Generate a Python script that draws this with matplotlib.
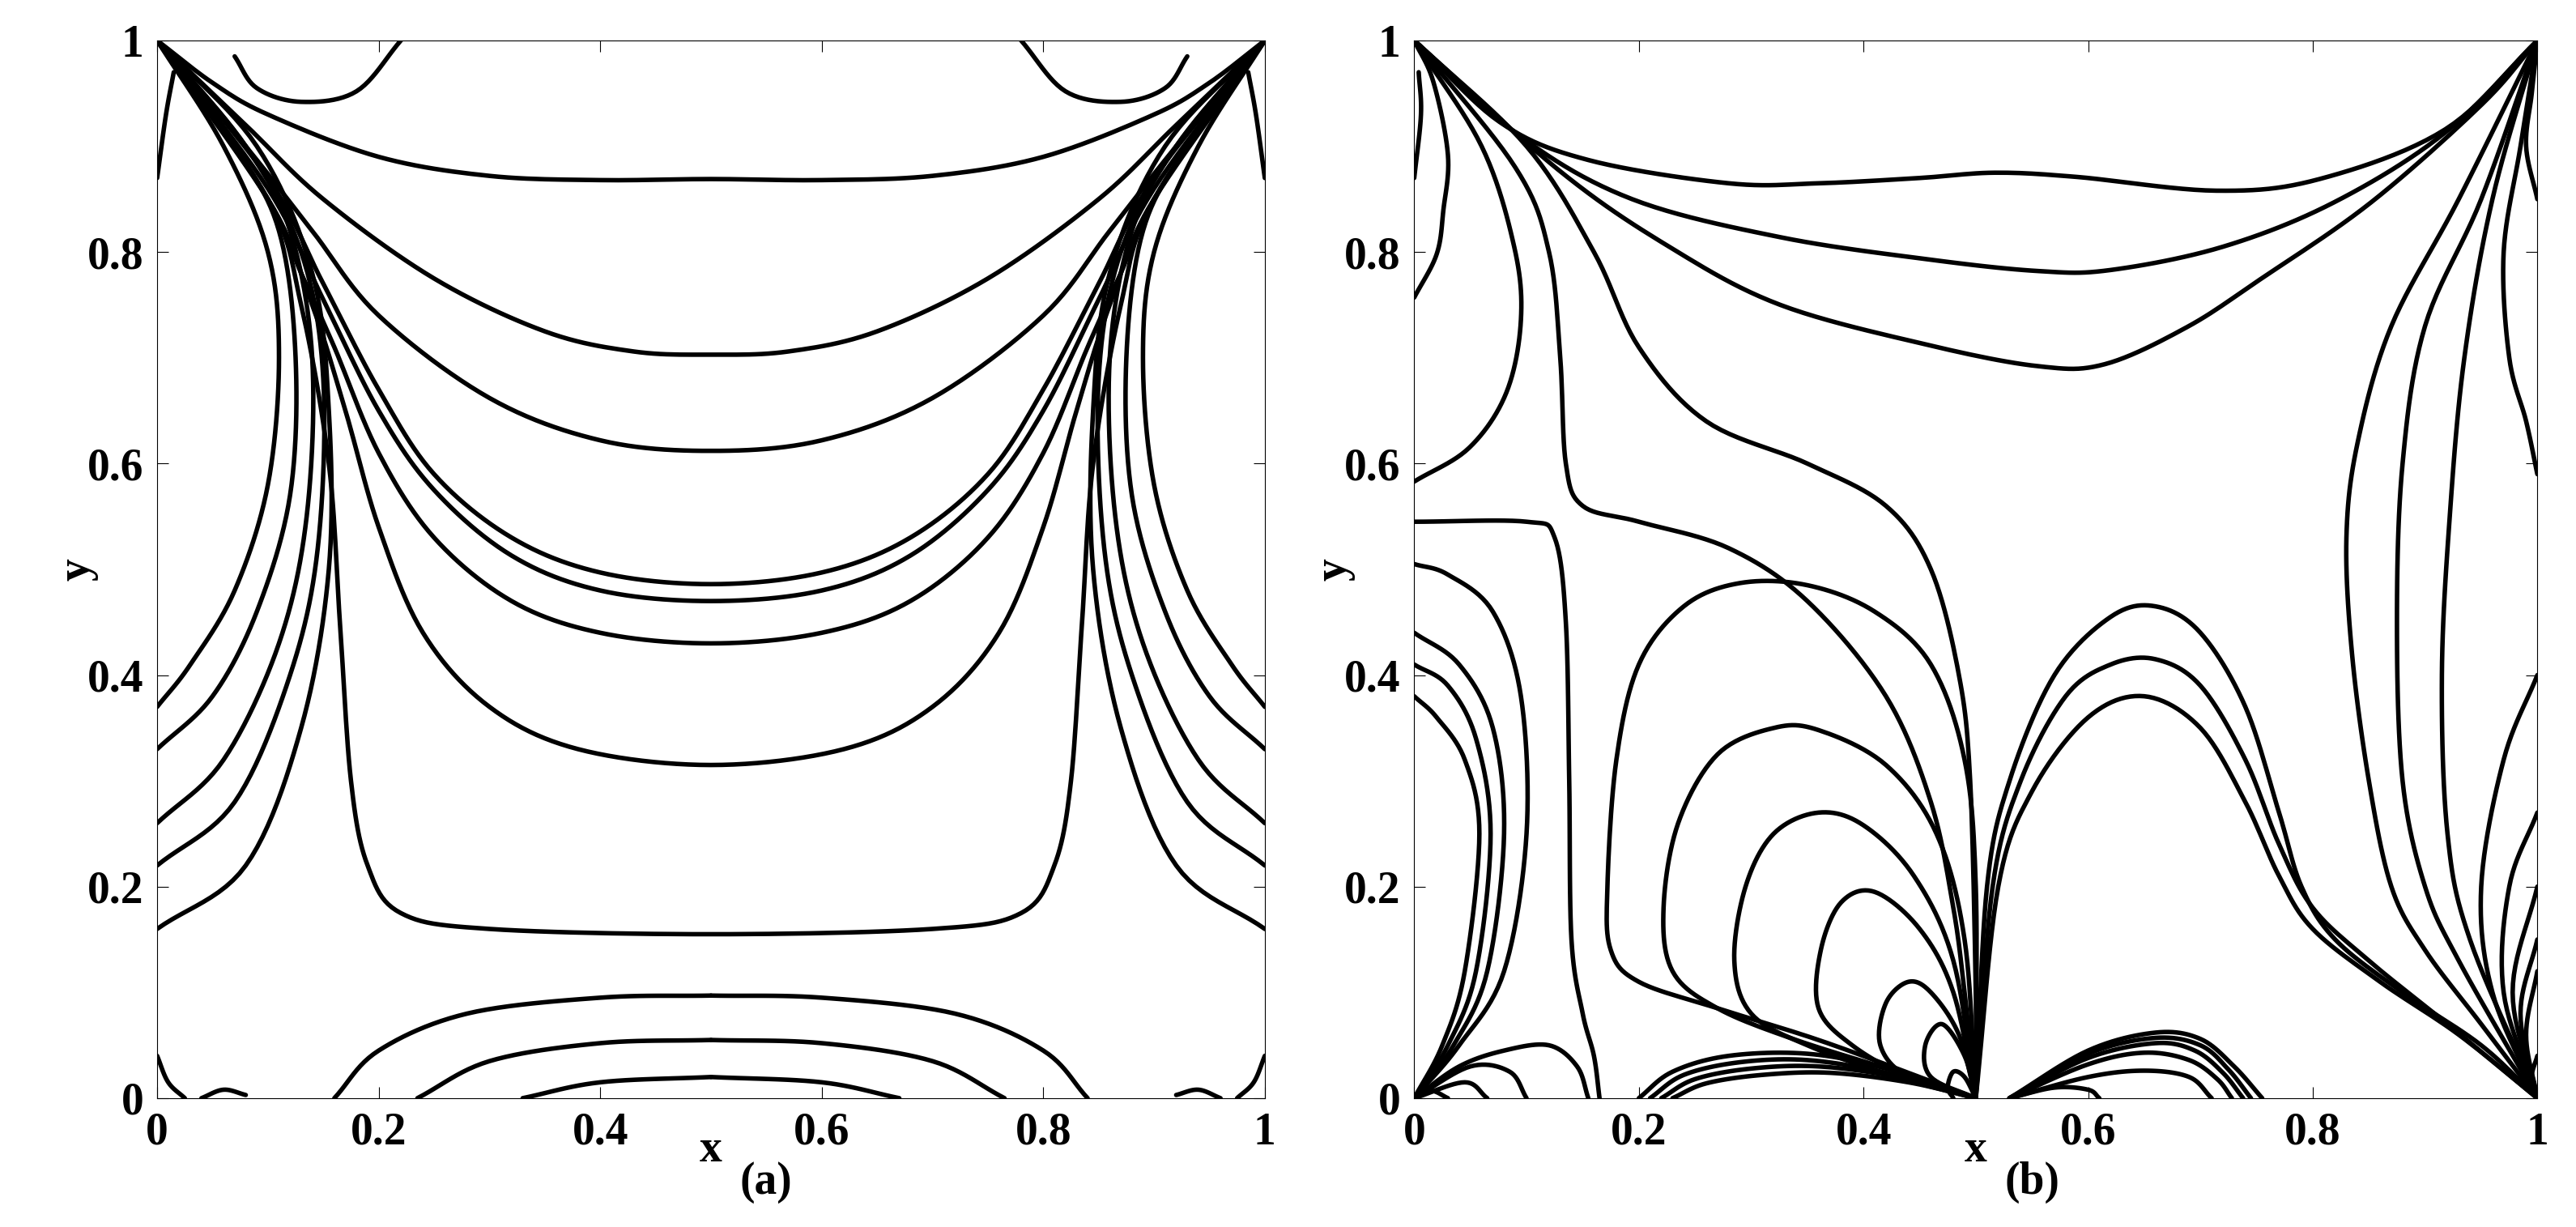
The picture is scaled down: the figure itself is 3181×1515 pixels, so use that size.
import numpy as np
import matplotlib
matplotlib.use('Agg')
import matplotlib.pyplot as plt

plt.rcParams['font.family'] = 'Liberation Serif'
plt.rcParams['font.weight'] = 'bold'

# ---- panel (a): left half of each heatline (field is symmetric about x=0.5)
a_cross = [  # from corner (0,1) to the mid line x=0.5
    [(0, 1), (0.05, 0.96), (0.1, 0.93), (0.2, 0.89), (0.3, 0.872), (0.4, 0.868), (0.5, 0.869)],
    [(0, 1), (0.08, 0.92), (0.15, 0.85), (0.25, 0.775), (0.35, 0.725), (0.43, 0.706), (0.5, 0.703)],
    [(0, 1), (0.08, 0.9), (0.14, 0.82), (0.2, 0.74), (0.3, 0.662), (0.4, 0.622), (0.5, 0.612)],
    [(0, 1), (0.1, 0.87), (0.15, 0.77), (0.2, 0.67), (0.25, 0.59), (0.32, 0.53), (0.4, 0.497), (0.5, 0.486)],
    [(0, 1), (0.1, 0.86), (0.15, 0.755), (0.2, 0.65), (0.25, 0.575), (0.32, 0.513), (0.4, 0.48), (0.5, 0.47)],
    [(0, 1), (0.1, 0.85), (0.13, 0.78), (0.16, 0.71), (0.2, 0.61), (0.25, 0.53), (0.32, 0.47), (0.4, 0.44), (0.5, 0.43)],
    [(0, 1), (0.1, 0.85), (0.14, 0.75), (0.17, 0.65), (0.2, 0.54), (0.24, 0.44), (0.3, 0.37), (0.38, 0.33), (0.5, 0.315)],
    [(0, 1), (0.1, 0.85), (0.13, 0.75), (0.155, 0.6), (0.165, 0.45), (0.175, 0.3), (0.19, 0.22),
     (0.22, 0.175), (0.3, 0.16), (0.5, 0.155)],
]
a_side = [  # from corner (0,1) back to the left wall
    [(0, 1), (0.06, 0.9), (0.1, 0.8), (0.11, 0.7), (0.1, 0.58), (0.07, 0.48), (0.03, 0.41), (0, 0.37)],
    [(0, 1), (0.07, 0.9), (0.11, 0.82), (0.125, 0.7), (0.12, 0.57), (0.09, 0.46), (0.05, 0.38), (0, 0.33)],
    [(0, 1), (0.08, 0.9), (0.12, 0.82), (0.14, 0.7), (0.135, 0.55), (0.11, 0.43), (0.06, 0.32), (0, 0.26)],
    [(0, 1), (0.08, 0.9), (0.13, 0.8), (0.15, 0.68), (0.145, 0.52), (0.12, 0.4), (0.07, 0.28), (0, 0.22)],
    [(0, 1), (0.09, 0.9), (0.14, 0.78), (0.155, 0.65), (0.155, 0.5), (0.13, 0.35), (0.08, 0.22), (0, 0.16)],
    [(0, 0.87), (0.008, 0.93), (0.015, 0.97)],
]
a_bottom = [
    [(0.16, 0), (0.2, 0.045), (0.28, 0.08), (0.4, 0.095), (0.5, 0.097)],
    [(0.235, 0), (0.3, 0.035), (0.4, 0.052), (0.5, 0.055)],
    [(0.33, 0), (0.4, 0.015), (0.5, 0.02)],
]
a_small = [
    [(0.07, 0.985), (0.09, 0.955), (0.13, 0.942), (0.18, 0.952), (0.22, 1)],
    [(0, 0.04), (0.01, 0.015), (0.025, 0)],
    [(0.04, 0), (0.06, 0.008), (0.08, 0.003)],
]

# ---- panel (b): heatlines
b_lines = [
    # corner (0,1) to corner (1,1)
    [(0, 1), (0.076, 0.923), (0.155, 0.887), (0.28, 0.865), (0.36, 0.865), (0.45, 0.87), (0.517, 0.875),
     (0.59, 0.871), (0.714, 0.858), (0.806, 0.869), (0.918, 0.916), (1, 1)],
    [(0, 1), (0.095, 0.909), (0.194, 0.85), (0.326, 0.814), (0.458, 0.793), (0.556, 0.782), (0.62, 0.783),
     (0.72, 0.805), (0.819, 0.847), (0.918, 0.913), (1, 1)],
    [(0, 1), (0.128, 0.878), (0.227, 0.805), (0.326, 0.75), (0.458, 0.712), (0.556, 0.692), (0.615, 0.694),
     (0.688, 0.729), (0.753, 0.774), (0.852, 0.847), (0.951, 0.94), (1, 1)],
    # corner (0,1) down to the bottom source at (0.5,0)
    [(0, 1), (0.1, 0.9), (0.16, 0.8), (0.2, 0.71), (0.26, 0.64), (0.35, 0.6), (0.42, 0.56), (0.46, 0.5),
     (0.485, 0.4), (0.495, 0.3), (0.5, 0.1), (0.5, 0)],
    [(0, 1), (0.09, 0.88), (0.12, 0.8), (0.13, 0.7), (0.135, 0.6), (0.15, 0.56), (0.2, 0.545), (0.28, 0.52),
     (0.35, 0.47), (0.42, 0.38), (0.46, 0.28), (0.48, 0.18), (0.49, 0.1), (0.5, 0)],
    # corner (0,1) to the left wall
    [(0, 1), (0.017, 0.961), (0.03, 0.892), (0.026, 0.84), (0.02, 0.798), (0, 0.757)],
    [(0, 1), (0.06, 0.9), (0.089, 0.805), (0.095, 0.736), (0.082, 0.667), (0.049, 0.615), (0, 0.583)],
    [(0, 0.87), (0.006, 0.93), (0.004, 0.97)],
    # left wall box line
    [(0, 0.545), (0.1, 0.545), (0.125, 0.53), (0.135, 0.45), (0.138, 0.3), (0.14, 0.15), (0.15, 0.08),
     (0.16, 0.04), (0.165, 0)],
    [(0.155, 0), (0.145, 0.03), (0.12, 0.05), (0.08, 0.045), (0.04, 0.03), (0, 0)],
    [(0.1, 0), (0.085, 0.025), (0.05, 0.03), (0, 0)],
    [(0.065, 0), (0.045, 0.015), (0, 0)],
    [(0.03, 0), (0.015, 0.007), (0, 0)],
    # loops from the origin to the left wall
    [(0, 0), (0.04, 0.05), (0.08, 0.12), (0.1, 0.25), (0.095, 0.38), (0.07, 0.46), (0.03, 0.495), (0, 0.505)],
    [(0, 0), (0.035, 0.05), (0.065, 0.12), (0.08, 0.25), (0.07, 0.35), (0.04, 0.41), (0, 0.44)],
    [(0, 0), (0.03, 0.05), (0.055, 0.12), (0.068, 0.25), (0.055, 0.34), (0.03, 0.39), (0, 0.41)],
    [(0, 0), (0.025, 0.05), (0.045, 0.12), (0.058, 0.25), (0.045, 0.32), (0.02, 0.36), (0, 0.38)],
    # loops from the source at (0.5,0), left side
    [(0.5, 0), (0.5, 0.2), (0.49, 0.32), (0.46, 0.41), (0.41, 0.46), (0.35, 0.485), (0.29, 0.487), (0.24, 0.465),
     (0.2, 0.41), (0.18, 0.32), (0.172, 0.2), (0.175, 0.14), (0.2, 0.11), (0.27, 0.085), (0.36, 0.055),
     (0.45, 0.02), (0.5, 0)],
    [(0.5, 0), (0.49, 0.15), (0.465, 0.25), (0.42, 0.315), (0.36, 0.348), (0.32, 0.35), (0.27, 0.325),
     (0.235, 0.26), (0.222, 0.18), (0.23, 0.12), (0.27, 0.085), (0.34, 0.055), (0.43, 0.025), (0.5, 0)],
    [(0.5, 0), (0.48, 0.13), (0.445, 0.21), (0.4, 0.258), (0.36, 0.27), (0.32, 0.25), (0.295, 0.2),
     (0.285, 0.13), (0.3, 0.08), (0.35, 0.05), (0.43, 0.02), (0.5, 0)],
    [(0.5, 0), (0.48, 0.1), (0.45, 0.16), (0.41, 0.195), (0.38, 0.185), (0.362, 0.14), (0.36, 0.085),
     (0.39, 0.05), (0.44, 0.02), (0.5, 0)],
    [(0.5, 0), (0.485, 0.06), (0.46, 0.1), (0.44, 0.11), (0.42, 0.09), (0.415, 0.05), (0.44, 0.02), (0.5, 0)],
    [(0.5, 0), (0.49, 0.04), (0.47, 0.07), (0.455, 0.05), (0.46, 0.02), (0.5, 0)],
    [(0.5, 0), (0.49, 0.02), (0.48, 0.025), (0.475, 0.01), (0.48, 0)],
    # arches along the bottom towards (0.5,0)
    [(0.2, 0), (0.23, 0.025), (0.28, 0.04), (0.35, 0.042), (0.42, 0.028), (0.5, 0)],
    [(0.21, 0), (0.24, 0.022), (0.29, 0.034), (0.35, 0.036), (0.42, 0.024), (0.5, 0)],
    [(0.22, 0), (0.25, 0.018), (0.3, 0.028), (0.36, 0.03), (0.43, 0.02), (0.5, 0)],
    [(0.23, 0), (0.26, 0.014), (0.31, 0.022), (0.37, 0.024), (0.44, 0.015), (0.5, 0)],
    # loops from (0.5,0) to the corner (1,0)
    [(0.5, 0), (0.51, 0.2), (0.53, 0.3), (0.57, 0.4), (0.62, 0.455), (0.66, 0.465), (0.7, 0.44), (0.74, 0.37),
     (0.77, 0.27), (0.79, 0.2), (0.82, 0.15), (0.88, 0.1), (0.95, 0.05), (1, 0)],
    [(0.5, 0), (0.515, 0.2), (0.54, 0.3), (0.58, 0.38), (0.62, 0.41), (0.66, 0.415), (0.7, 0.39), (0.74, 0.32),
     (0.77, 0.24), (0.8, 0.18), (0.85, 0.13), (0.92, 0.07), (1, 0)],
    [(0.5, 0), (0.52, 0.2), (0.55, 0.29), (0.6, 0.36), (0.65, 0.38), (0.7, 0.35), (0.74, 0.28), (0.77, 0.21),
     (0.8, 0.16), (0.86, 0.11), (0.93, 0.06), (1, 0)],
    # corner (1,1) to corner (1,0)
    [(1, 1), (0.93, 0.85), (0.87, 0.73), (0.84, 0.62), (0.83, 0.53), (0.835, 0.42), (0.85, 0.3), (0.87, 0.2),
     (0.9, 0.14), (0.95, 0.07), (1, 0)],
    [(1, 1), (0.95, 0.85), (0.9, 0.73), (0.88, 0.6), (0.875, 0.45), (0.88, 0.3), (0.9, 0.2), (0.93, 0.13), (1, 0)],
    [(1, 1), (0.96, 0.85), (0.935, 0.7), (0.922, 0.55), (0.915, 0.4), (0.92, 0.25), (0.94, 0.15), (1, 0)],
    [(1, 1), (0.985, 0.9), (0.97, 0.8), (0.975, 0.7), (0.99, 0.64), (1, 0.59)],
    [(1, 1), (0.995, 0.95), (0.99, 0.9), (1, 0.85)],
    # corner (1,0) back to the right wall
    [(1, 0), (0.96, 0.1), (0.95, 0.2), (0.97, 0.32), (1, 0.4)],
    [(1, 0), (0.97, 0.1), (0.975, 0.2), (1, 0.27)],
    [(1, 0), (0.978, 0.1), (1, 0.2)],
    [(1, 0), (0.985, 0.08), (1, 0.15)],
    [(1, 0), (0.99, 0.06), (1, 0.12)],
    [(1, 0), (0.995, 0.02), (1, 0.04)],
    # small bumps right of the source
    [(0.53, 0), (0.6, 0.045), (0.66, 0.062), (0.7, 0.056), (0.73, 0.03), (0.755, 0)],
    [(0.53, 0), (0.6, 0.042), (0.66, 0.057), (0.7, 0.05), (0.725, 0.027), (0.745, 0)],
    [(0.53, 0), (0.6, 0.038), (0.66, 0.052), (0.695, 0.045), (0.72, 0.024), (0.738, 0)],
    [(0.53, 0), (0.6, 0.032), (0.65, 0.043), (0.69, 0.036), (0.715, 0.018), (0.728, 0)],
    [(0.53, 0), (0.6, 0.02), (0.65, 0.026), (0.69, 0.02), (0.71, 0)],
    [(0.53, 0), (0.57, 0.01), (0.6, 0.008), (0.61, 0)],
]


def smooth(xs, ys, k=12):
    # Catmull-Rom curve through the read points, only to draw a rounded line
    p = np.column_stack([xs, ys]).astype(float)
    if len(p) < 3:
        return p[:, 0], p[:, 1]
    p = np.vstack([2 * p[0] - p[1], p, 2 * p[-1] - p[-2]])
    out = []
    t = np.linspace(0, 1, k, endpoint=False)[:, None]
    for i in range(1, len(p) - 2):
        p0, p1, p2, p3 = p[i - 1], p[i], p[i + 1], p[i + 2]
        out.append(0.5 * (2 * p1 + (-p0 + p2) * t + (2 * p0 - 5 * p1 + 4 * p2 - p3) * t ** 2
                          + (-p0 + 3 * p1 - 3 * p2 + p3) * t ** 3))
    out.append(p[-2][None, :])
    out = np.vstack(out)
    return out[:, 0], out[:, 1]


def draw(ax, xs, ys):
    sx, sy = smooth(xs, ys)
    ax.plot(sx, sy, color='black', lw=4, solid_joinstyle='round', solid_capstyle='round')


fig = plt.figure(figsize=(31.81, 15.15), dpi=100)
ax1 = fig.add_axes([0.061, 0.105, 0.43, 0.862])
ax2 = fig.add_axes([0.549, 0.105, 0.436, 0.862])

for line in a_cross:
    xs = [p[0] for p in line]
    ys = [p[1] for p in line]
    draw(ax1, xs + [1 - v for v in xs[::-1]][1:], ys + ys[::-1][1:])
for line in a_side + a_bottom + a_small:
    xs = [p[0] for p in line]
    ys = [p[1] for p in line]
    draw(ax1, xs, ys)
    draw(ax1, [1 - v for v in xs], ys)
for line in b_lines:
    draw(ax2, [p[0] for p in line], [p[1] for p in line])

for ax, tag in [(ax1, '(a)'), (ax2, '(b)')]:
    ax.set_xlim(0, 1)
    ax.set_ylim(0, 1)
    ax.set_xticks([0, 0.2, 0.4, 0.6, 0.8, 1])
    ax.set_xticklabels(['0', '0.2', '0.4', '0.6', '0.8', '1'])
    ax.set_yticks([0, 0.2, 0.4, 0.6, 0.8, 1])
    ax.set_yticklabels(['0', '0.2', '0.4', '0.6', '0.8', '1'])
    ax.tick_params(labelsize=40, direction='in', length=10, top=True, right=True, pad=12)
    ax.set_xlabel('x', fontsize=40, fontweight='bold', labelpad=-22)
    ax.set_ylabel('y', fontsize=40, fontweight='bold', labelpad=-10)
    ax.text(0.55, -0.09, tag, transform=ax.transAxes, fontsize=40, fontweight='bold', ha='center')

fig.savefig('out.png', dpi=100)
